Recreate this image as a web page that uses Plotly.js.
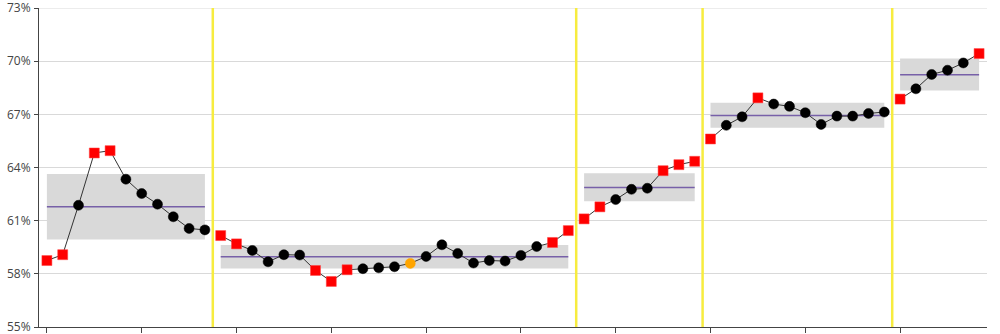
<!DOCTYPE html>
<html>
<head>
<meta charset="utf-8">
<script src="https://cdn.plot.ly/plotly-3.0.1.min.js"></script>
<style>html,body{margin:0;padding:0;background:#fff;}#chart{width:1000px;height:334px;}</style>
</head>
<body>
<div id="chart"></div>
<script>
// Observation values (%), one per sample index 0..59
const values = [
  58.75, 59.08, 61.87, 64.82, 64.95, 63.34, 62.53, 61.93, 61.22, 60.56, 60.48,
  60.16, 59.69, 59.32, 58.68, 59.08, 59.06, 58.19, 57.57, 58.23, 58.29, 58.34, 58.40,
  58.59, 58.98, 59.64, 59.15, 58.61, 58.75, 58.72, 59.04, 59.54, 59.77, 60.44,
  61.10, 61.78, 62.19, 62.77, 62.83, 63.82, 64.16, 64.35,
  65.61, 66.38, 66.86, 67.93, 67.58, 67.45, 67.09, 66.43, 66.90, 66.90, 67.05, 67.13,
  67.86, 68.44, 69.25, 69.49, 69.90, 70.43
];
// Point status: r = red square (signal), b = black circle, o = orange circle
const pointType = [
  'r','r','b','r','r','b','b','b','b','b','b',
  'r','r','b','b','b','b','r','r','r','b','b','b',
  'o','b','b','b','b','b','b','b','b','r','r',
  'r','r','b','b','b','r','r','r',
  'r','b','b','r','b','b','b','b','b','b','b','b',
  'r','b','b','b','b','r'
];
// Phases
const phaseStart = [0, 11, 34, 42, 54];
const phaseEnd   = [10, 33, 41, 53, 59];
const phaseMean  = [61.78, 58.96, 62.87, 66.94, 69.23];
const bandLow    = [59.94, 58.30, 62.10, 66.24, 68.35];
const bandHigh   = [63.64, 59.62, 63.68, 67.65, 70.15];
// Phase dividers (between sample indices)
const dividers = [10.5, 33.5, 41.5, 53.5];
// Y axis
const yMin = 55, yMax = 73, yStep = 3;

const traces = [];
// Bands
for (let i = 0; i < phaseStart.length; i++) {
  const a = phaseStart[i], b = phaseEnd[i];
  traces.push({
    x: [a, b, b, a, a], y: [bandLow[i], bandLow[i], bandHigh[i], bandHigh[i], bandLow[i]],
    type: 'scatter', mode: 'lines', fill: 'toself', fillcolor: '#d9d9d9',
    line: {width: 0, color: 'rgba(0,0,0,0)'}, hoverinfo: 'skip', showlegend: false
  });
}
// Mean lines
for (let i = 0; i < phaseStart.length; i++) {
  traces.push({
    x: [phaseStart[i], phaseEnd[i]], y: [phaseMean[i], phaseMean[i]],
    type: 'scatter', mode: 'lines', line: {color: '#7760a8', width: 1.5},
    hoverinfo: 'skip', showlegend: false
  });
}
// Dividers
dividers.forEach(d => {
  traces.push({
    x: [d, d], y: [yMin, yMax], type: 'scatter', mode: 'lines',
    line: {color: '#f7ec3f', width: 2.5}, hoverinfo: 'skip', showlegend: false
  });
});
// Connecting lines per phase
for (let i = 0; i < phaseStart.length; i++) {
  const xs = [], ys = [];
  for (let k = phaseStart[i]; k <= phaseEnd[i]; k++) { xs.push(k); ys.push(values[k]); }
  traces.push({
    x: xs, y: ys, type: 'scatter', mode: 'lines',
    line: {color: '#333', width: 1}, hoverinfo: 'skip', showlegend: false
  });
}
// Markers
const idx = values.map((v, i) => i);
const symbols = pointType.map(t => t === 'r' ? 'square' : 'circle');
const colors = pointType.map(t => t === 'r' ? '#ff0000' : (t === 'o' ? '#ffa500' : '#000000'));
const lineColors = pointType.map(t => t === 'r' ? '#ff4040' : (t === 'o' ? '#ffa500' : '#000000'));
traces.push({
  x: idx, y: values, type: 'scatter', mode: 'markers',
  marker: {symbol: symbols, color: colors, size: 10, line: {color: lineColors, width: 0.5}},
  showlegend: false
});

const tickVals = [];
for (let v = yMin; v <= yMax; v += yStep) tickVals.push(v);

const layout = {
  width: 1000, height: 334,
  margin: {l: 39.3, r: 13.3, t: 7.5, b: 6.5, pad: 0},
  paper_bgcolor: '#fff', plot_bgcolor: '#fff',
  font: {family: 'Open Sans, sans-serif', size: 12, color: '#444'},
  showlegend: false,
  shapes: [{
    type: 'line', xref: 'paper', x0: 0, x1: 1, yref: 'y', y0: yMax, y1: yMax,
    line: {color: '#d9d9d9', width: 1}, layer: 'below'
  }],
  xaxis: {
    range: [-0.5, 59.5], tick0: 0, dtick: 6, tickmode: 'linear',
    showgrid: false, zeroline: false, showline: true, linecolor: '#444', linewidth: 1,
    ticks: 'outside', ticklen: 5, tickcolor: '#444', tickwidth: 1, showticklabels: false
  },
  yaxis: {
    range: [yMin, yMax], tickmode: 'array', tickvals: tickVals,
    ticktext: tickVals.map(v => v + '%'), ticklabeloverflow: 'allow', ticklabelstandoff: 1,
    showgrid: true, gridcolor: '#d9d9d9', gridwidth: 1, zeroline: false,
    showline: true, linecolor: '#444', linewidth: 1,
    ticks: 'outside', ticklen: 4, tickcolor: '#444', tickwidth: 1,
    tickfont: {family: 'Open Sans, sans-serif', size: 12, color: '#444'}
  }
};

Plotly.newPlot('chart', traces, layout, {displayModeBar: false, staticPlot: true});
</script>
</body>
</html>
